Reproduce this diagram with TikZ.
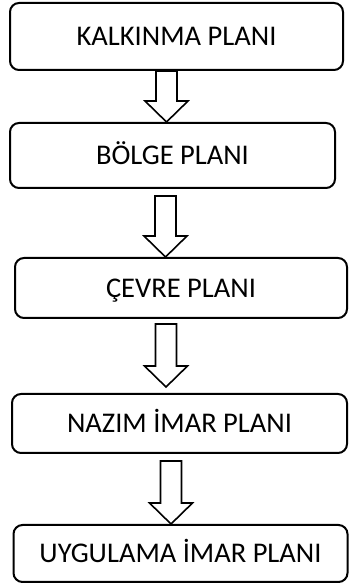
\documentclass[tikz,border=0pt]{standalone}
\usepackage{fontspec}
\setmainfont{Carlito}
\usetikzlibrary{calc}

\tikzset{
  planbox/.style={draw,rounded corners=9pt,line width=2pt,inner sep=0pt,
    font=\fontsize{28.5}{34}\selectfont,text height=18.4pt,text depth=0pt,text=black},
  planarrow/.style={draw,line width=1.6pt,fill=white,line join=miter}
}

% block arrow: from, to, x, gap top, gap bottom
\newcommand{\planarrow}[5]{%
  \draw[planarrow] let \p1=(#1.south), \p2=(#2.north) in
    (#3pt-10.5pt,\y1-#4pt) -- (#3pt-10.5pt,\y2+#5pt+21pt) -- (#3pt-21.5pt,\y2+#5pt+21pt)
    -- (#3pt,\y2+#5pt) -- (#3pt+21.5pt,\y2+#5pt+21pt) -- (#3pt+10.5pt,\y2+#5pt+21pt)
    -- (#3pt+10.5pt,\y1-#4pt) -- cycle;}

\begin{document}
\begin{tikzpicture}[x=1pt,y=1pt]

\useasboundingbox (0,0) rectangle (349,584);

                    % 1
                    \node[planbox,minimum width=333pt,minimum height=67pt] (KALK) at (176.5,547.5) {KALKINMA PLANI};

                    % 2
                    \node[planbox,minimum width=325pt,minimum height=65pt] (BOLGE) at (172.5,428.5) {BÖLGE PLANI};

                    % 3
                    \node[planbox,minimum width=332pt,minimum height=60pt] (CEVRE) at (181,296) {ÇEVRE PLANI};

                    % 4
                    \node[planbox,minimum width=335pt,minimum height=59pt] (NAZIM) at (179.5,160.5) {NAZIM İMAR PLANI};

                    % 5
                    \node[planbox,minimum width=334pt,minimum height=57pt] (UYGU) at (180.5,30.5) {UYGULAMA İMAR PLANI};

%%%%%%%%%%%%%%%%%%%%%%%%%%%%%%%%%%%%%%%%%%%%%%%%%%%%%%%%%%%%%%%%%%%%%%%%%%%%%%%%%%%%

\planarrow{KALK}{BOLGE}{166.5}{0}{0}
\planarrow{BOLGE}{CEVRE}{165.5}{7}{0}
\planarrow{CEVRE}{NAZIM}{166}{5}{6}
\planarrow{NAZIM}{UYGU}{171}{7}{0}

\end{tikzpicture}
\end{document}
